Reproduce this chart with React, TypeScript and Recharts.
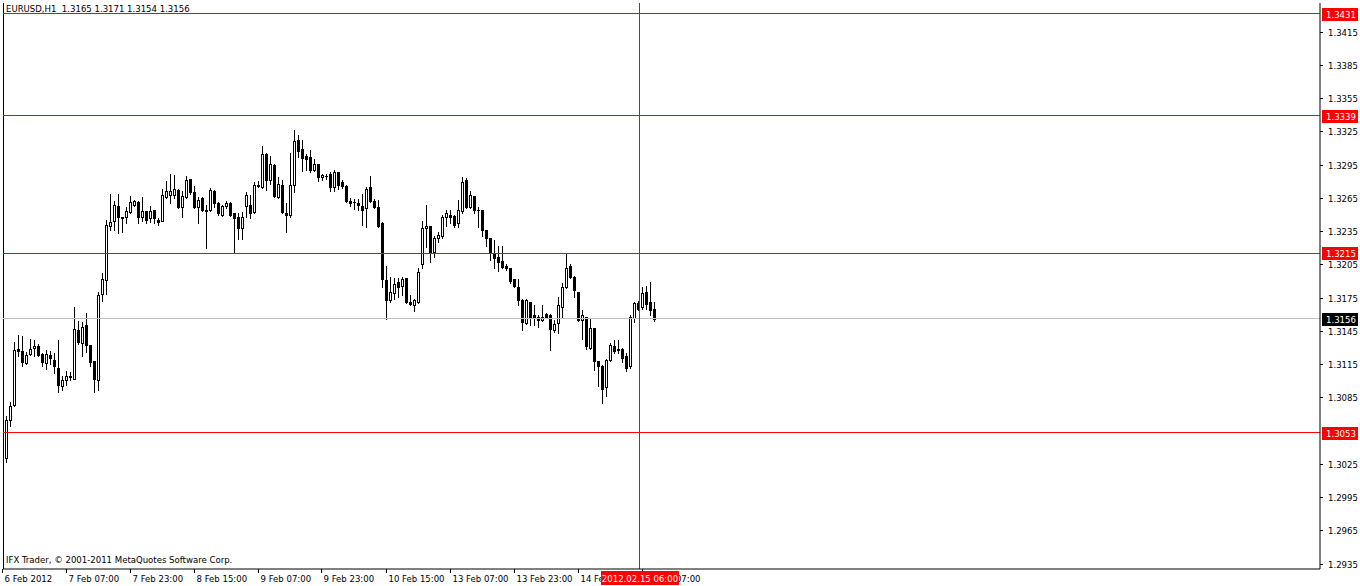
import React from "react";
import {
  ComposedChart,
  Bar,
  XAxis,
  YAxis,
  ReferenceLine,
} from "recharts";

// EURUSD H1 candles, oldest first (6 Feb 15:00 .. 15 Feb 10:00)
const openPrices = [
  1.3065, 1.303, 1.3065, 1.3078, 1.3129, 1.3127, 1.3116, 1.3124, 1.313, 1.3131,
  1.3124, 1.3116, 1.3123, 1.3119, 1.3112, 1.3095, 1.3101, 1.3103, 1.3102, 1.3146,
  1.3134, 1.315, 1.3132, 1.3118, 1.3101, 1.3178, 1.3191, 1.324, 1.3244, 1.3258,
  1.3247, 1.3248, 1.3252, 1.3259, 1.3261, 1.3248, 1.3253, 1.3247, 1.3254, 1.3245,
  1.3244, 1.3266, 1.3268, 1.3268, 1.3272, 1.3257, 1.3266, 1.3282, 1.327, 1.3257,
  1.3265, 1.3254, 1.3254, 1.3271, 1.326, 1.325, 1.3258, 1.326, 1.3251, 1.3248,
  1.3238, 1.3258, 1.3259, 1.3252, 1.3277, 1.3275, 1.3305, 1.3281, 1.3295, 1.3266,
  1.3277, 1.3251, 1.325, 1.3277, 1.3317, 1.3309, 1.3303, 1.3302, 1.329, 1.3296,
  1.3284, 1.3285, 1.3287, 1.3275, 1.3288, 1.3279, 1.3276, 1.3262, 1.3261, 1.326,
  1.3258, 1.3256, 1.3275, 1.3262, 1.3257, 1.3242, 1.3191, 1.3173, 1.3179, 1.3189,
  1.3186, 1.3193, 1.3171, 1.3168, 1.3171, 1.3205, 1.3238, 1.324, 1.3216, 1.3229,
  1.3231, 1.3248, 1.325, 1.3249, 1.3242, 1.3253, 1.3281, 1.3257, 1.3267, 1.3254,
  1.3254, 1.3236, 1.3229, 1.3215, 1.3212, 1.3208, 1.3204, 1.3202, 1.3192, 1.3185,
  1.3173, 1.3152, 1.3171, 1.3159, 1.3158, 1.3155, 1.316, 1.3159, 1.3146, 1.3152,
  1.3167, 1.3185, 1.3204, 1.3194, 1.318, 1.3155, 1.3158, 1.313, 1.3148, 1.3118,
  1.3113, 1.3094, 1.3119, 1.3131, 1.3129, 1.3129, 1.3122, 1.3113, 1.3157, 1.317,
  1.3167, 1.318, 1.3171, 1.3165,
];
const highPrices = [
  1.3065, 1.3068, 1.3081, 1.3135, 1.3141, 1.314, 1.3126, 1.3138, 1.3137, 1.3133,
  1.3125, 1.3128, 1.3127, 1.3125, 1.3137, 1.3104, 1.3109, 1.3108, 1.3167, 1.3154,
  1.3153, 1.3161, 1.3132, 1.3118, 1.318, 1.3197, 1.3245, 1.3269, 1.3262, 1.3269,
  1.3248, 1.3257, 1.3267, 1.3263, 1.3262, 1.3266, 1.3253, 1.3258, 1.3254, 1.3247,
  1.3273, 1.328, 1.3287, 1.3286, 1.3273, 1.3271, 1.3285, 1.3282, 1.3276, 1.3266,
  1.3266, 1.3259, 1.3274, 1.3272, 1.3261, 1.3259, 1.3262, 1.3261, 1.3251, 1.3251,
  1.3252, 1.327, 1.3268, 1.3279, 1.328, 1.3312, 1.3306, 1.3303, 1.3296, 1.3284,
  1.3281, 1.326, 1.3306, 1.3326, 1.3322, 1.3317, 1.3305, 1.3308, 1.33, 1.3296,
  1.3287, 1.3287, 1.3288, 1.329, 1.3288, 1.3281, 1.3277, 1.3265, 1.3264, 1.3264,
  1.3269, 1.3275, 1.3285, 1.3264, 1.3263, 1.3243, 1.3204, 1.3194, 1.3193, 1.3193,
  1.3194, 1.3193, 1.3177, 1.3174, 1.3202, 1.3244, 1.3259, 1.324, 1.3231, 1.3234,
  1.325, 1.3254, 1.3254, 1.325, 1.3263, 1.3284, 1.3283, 1.3271, 1.3267, 1.3257,
  1.3254, 1.3236, 1.3229, 1.3227, 1.3222, 1.3222, 1.3205, 1.3202, 1.3192, 1.3192,
  1.3174, 1.3174, 1.3171, 1.3168, 1.3159, 1.3168, 1.3161, 1.316, 1.3155, 1.3176,
  1.3188, 1.3215, 1.3205, 1.3195, 1.318, 1.3164, 1.3158, 1.3156, 1.3148, 1.3118,
  1.3114, 1.312, 1.3134, 1.3137, 1.3137, 1.313, 1.3125, 1.3159, 1.3171, 1.3172,
  1.3185, 1.3186, 1.3189, 1.3171,
];
const lowPrices = [
  1.3027, 1.3027, 1.3059, 1.3077, 1.3122, 1.3113, 1.3115, 1.3123, 1.3122, 1.3122,
  1.3113, 1.3111, 1.3115, 1.3107, 1.309, 1.3092, 1.3096, 1.3101, 1.3102, 1.3133,
  1.3122, 1.3126, 1.3113, 1.309, 1.3092, 1.3172, 1.3178, 1.3236, 1.3236, 1.3233,
  1.3234, 1.3242, 1.3251, 1.3258, 1.3242, 1.3244, 1.3242, 1.3243, 1.3242, 1.3241,
  1.3244, 1.3265, 1.326, 1.3265, 1.3256, 1.3248, 1.3265, 1.3269, 1.3256, 1.3242,
  1.3253, 1.322, 1.3253, 1.3257, 1.325, 1.3249, 1.3256, 1.3249, 1.3216, 1.3228,
  1.3228, 1.3248, 1.3247, 1.3251, 1.3275, 1.3274, 1.3272, 1.3278, 1.3266, 1.3265,
  1.3251, 1.3234, 1.3248, 1.327, 1.3302, 1.3289, 1.329, 1.3288, 1.3289, 1.328,
  1.3281, 1.3282, 1.3271, 1.3271, 1.3273, 1.3274, 1.3261, 1.3258, 1.3255, 1.3254,
  1.3241, 1.3239, 1.3261, 1.3256, 1.3239, 1.3185, 1.3156, 1.3171, 1.3174, 1.3176,
  1.3177, 1.317, 1.3168, 1.3163, 1.317, 1.3202, 1.3221, 1.3207, 1.3212, 1.3225,
  1.3229, 1.324, 1.3242, 1.3239, 1.3239, 1.3251, 1.3256, 1.3256, 1.3251, 1.3239,
  1.3231, 1.3222, 1.3209, 1.3202, 1.3199, 1.3202, 1.32, 1.3188, 1.3185, 1.3168,
  1.3146, 1.3151, 1.315, 1.315, 1.3149, 1.3154, 1.3157, 1.3128, 1.3144, 1.3143,
  1.3158, 1.3184, 1.3193, 1.3176, 1.3154, 1.3138, 1.3129, 1.3129, 1.311, 1.3095,
  1.308, 1.3086, 1.3118, 1.3125, 1.3125, 1.3117, 1.3109, 1.3112, 1.3153, 1.3164,
  1.3165, 1.3165, 1.3159, 1.3154,
];
const closePrices = [
  1.3029, 1.3065, 1.3077, 1.3128, 1.3127, 1.3117, 1.3123, 1.3129, 1.3131, 1.3123,
  1.3117, 1.3124, 1.3121, 1.3113, 1.3096, 1.3101, 1.3104, 1.3104, 1.3147, 1.3135,
  1.3149, 1.3132, 1.3117, 1.3102, 1.3177, 1.3192, 1.3241, 1.3243, 1.3259, 1.3248,
  1.3248, 1.3253, 1.3261, 1.3262, 1.3248, 1.3253, 1.3245, 1.3253, 1.3247, 1.3243,
  1.3268, 1.3271, 1.3271, 1.3273, 1.3257, 1.3267, 1.3281, 1.327, 1.3257, 1.3263,
  1.3254, 1.3253, 1.3272, 1.326, 1.3251, 1.3258, 1.326, 1.325, 1.3247, 1.3238,
  1.3248, 1.3268, 1.3251, 1.3277, 1.3276, 1.3305, 1.3281, 1.3296, 1.3267, 1.3278,
  1.3252, 1.325, 1.3277, 1.3316, 1.3307, 1.3301, 1.33, 1.329, 1.3296, 1.3284,
  1.3286, 1.3285, 1.3275, 1.3288, 1.3277, 1.3276, 1.3262, 1.326, 1.3261, 1.3259,
  1.3254, 1.3273, 1.3262, 1.3257, 1.324, 1.3192, 1.3173, 1.318, 1.3187, 1.3185,
  1.3192, 1.3171, 1.3169, 1.3173, 1.3198, 1.3238, 1.324, 1.3215, 1.3229, 1.3232,
  1.3248, 1.3251, 1.3248, 1.3241, 1.3254, 1.3279, 1.3257, 1.3268, 1.3254, 1.3254,
  1.3236, 1.3229, 1.3215, 1.3211, 1.3207, 1.3203, 1.3202, 1.319, 1.3186, 1.3173,
  1.3153, 1.3173, 1.3158, 1.3158, 1.3155, 1.3158, 1.3158, 1.3147, 1.3151, 1.3168,
  1.3185, 1.3202, 1.3194, 1.3182, 1.3155, 1.3159, 1.3131, 1.3148, 1.3118, 1.3113,
  1.3093, 1.3119, 1.3132, 1.3127, 1.3128, 1.3121, 1.3112, 1.3158, 1.317, 1.3165,
  1.3179, 1.3169, 1.3164, 1.3156,
];

const timeTicks = [0, 16, 32, 48, 64, 80, 96, 112, 128, 144, 160];
const timeLabels = [
  "6 Feb 2012", "7 Feb 07:00", "7 Feb 23:00", "8 Feb 15:00", "9 Feb 07:00",
  "9 Feb 23:00", "10 Feb 15:00", "13 Feb 07:00", "13 Feb 23:00", "14 Feb 15:00",
  "15 Feb 07:00",
];
const priceTicks = [
  1.2935, 1.2965, 1.2995, 1.3025, 1.3085, 1.3115, 1.3145, 1.3175, 1.3205,
  1.3235, 1.3265, 1.3295, 1.3325, 1.3355, 1.3385, 1.3415,
];
const levelLines = [1.3431, 1.3339, 1.3215, 1.3053];
const bidPrice = 1.3156;
const markerBar = 159;
const markerLabel = "2012.02.15 06:00";

const FONT = '"DejaVu Sans Condensed", "DejaVu Sans", sans-serif';
const Y_MIN = 1.29302;
const Y_MAX = 1.34409;
const X_MIN = -0.125;
const X_MAX = 329.125;

const data = openPrices.map((open, i) => ({
  i,
  open,
  high: highPrices[i],
  low: lowPrices[i],
  close: closePrices[i],
}));

function Candle(props: any) {
  const { x, y, width, height, payload } = props;
  const { open, high, low, close } = payload;
  const top = Math.min(y, y + height);
  const h = Math.abs(height);
  const k = high - low > 0 ? h / (high - low) : 0;
  const cx = Math.round(x + width / 2) - 0.5;
  const py = (v: number) => top + (high - v) * k;
  const bTop = Math.round(py(Math.max(open, close))) + 0.5;
  const bBot = Math.round(py(Math.min(open, close))) + 0.5;
  let body;
  if (bBot - bTop < 1) {
    body = <line x1={cx - 1.5} x2={cx + 1.5} y1={bTop} y2={bTop} stroke="#000" />;
  } else if (close > open) {
    body = (
      <rect x={cx - 1} y={bTop} width={2} height={bBot - bTop} fill="#fff" stroke="#000" />
    );
  } else {
    body = (
      <rect x={cx - 1.5} y={bTop - 0.5} width={3} height={bBot - bTop + 1} fill="#000" />
    );
  }
  return (
    <g shapeRendering="crispEdges">
      <line
        x1={cx}
        x2={cx}
        y1={Math.round(top)}
        y2={Math.round(top + h) + 1}
        stroke="#000"
      />
      {body}
    </g>
  );
}

function TimeTick(props: any) {
  const { x, payload } = props;
  const idx = timeTicks.indexOf(payload.value);
  const tx = Math.round(x) - 1.5;
  return (
    <g>
      <line x1={tx} x2={tx} y1={569} y2={573} stroke="#000" />
      <text x={tx + 2} y={582} fontSize={9.5} fontFamily={FONT} fill="#000">
        {timeLabels[idx]}
      </text>
    </g>
  );
}

function PriceTick(props: any) {
  const { y, payload } = props;
  const ty = Math.round(y) + 0.5;
  return (
    <g>
      <line x1={1320} x2={1323} y1={ty} y2={ty} stroke="#000" />
      <text x={1328} y={ty + 3.5} fontSize={9.5} fontFamily={FONT} fill="#000">
        {payload.value.toFixed(4)}
      </text>
    </g>
  );
}

function PriceTag(props: any) {
  const { viewBox, text, bg } = props;
  const cy = Math.round(viewBox.y);
  return (
    <g>
      <rect x={1322} y={cy - 6} width={36} height={13} fill={bg} />
      <text x={1326} y={cy + 4} fontSize={9.5} fontFamily={FONT} fill="#fff">
        {text}
      </text>
    </g>
  );
}

// drawn by a second bottom axis so it sits above the time labels
function DateTag(props: any) {
  const { x } = props;
  const cx = Math.round(x);
  return (
    <g>
      <rect x={cx - 39} y={571} width={78} height={14} fill="#ff0000" />
      <text
        x={cx}
        y={582}
        textAnchor="middle"
        fontSize={9.5}
        fontFamily={FONT}
        fill="#fff"
      >
        {markerLabel}
      </text>
    </g>
  );
}

export default function App() {
  return (
    <div
      style={{
        position: "absolute",
        left: 0,
        top: 0,
        width: 1360,
        height: 586,
        background: "#fff",
      }}
    >
      <ComposedChart
        width={1360}
        height={586}
        data={data}
        margin={{ top: 3, right: 0, left: 3, bottom: 0 }}
      >
        <XAxis
          dataKey="i"
          type="number"
          domain={[X_MIN, X_MAX]}
          allowDataOverflow
          ticks={timeTicks}
          interval={0}
          tick={<TimeTick />}
          tickLine={false}
          axisLine={{ stroke: "#000" }}
          height={16}
        />
        <XAxis
          xAxisId="marker"
          dataKey="i"
          type="number"
          domain={[X_MIN, X_MAX]}
          allowDataOverflow
          ticks={[markerBar]}
          interval={0}
          tick={<DateTag />}
          tickLine={false}
          axisLine={false}
          height={1}
        />
        <YAxis
          orientation="right"
          type="number"
          domain={[Y_MIN, Y_MAX]}
          allowDataOverflow
          ticks={priceTicks}
          interval={0}
          tick={<PriceTick />}
          tickLine={false}
          axisLine={{ stroke: "#000" }}
          width={40}
        />
        <ReferenceLine x={X_MIN} stroke="#000" shapeRendering="crispEdges" />
        <ReferenceLine
          y={bidPrice}
          stroke="#c0c0c0"
          shapeRendering="crispEdges"
          label={(p: any) => (
            <PriceTag viewBox={p.viewBox} text={bidPrice.toFixed(4)} bg="#000" />
          )}
        />
        <Bar
          dataKey={(d: any) => [d.low, d.high]}
          barSize={4}
          shape={<Candle />}
          isAnimationActive={false}
        />
        {levelLines.map((v) => (
          <ReferenceLine
            key={v}
            y={v}
            stroke="#ff0000"
            shapeRendering="crispEdges"
            label={(p: any) => (
              <PriceTag viewBox={p.viewBox} text={v.toFixed(4)} bg="#ff0000" />
            )}
          />
        ))}
        <ReferenceLine x={markerBar} stroke="#ff0000" shapeRendering="crispEdges" />
      </ComposedChart>
      <div
        style={{
          position: "absolute",
          left: 6,
          top: 3,
          fontFamily: FONT,
          fontSize: 9.5,
          lineHeight: "12px",
          whiteSpace: "pre",
        }}
      >
        {"EURUSD,H1  1.3165 1.3171 1.3154 1.3156"}
      </div>
      <div
        style={{
          position: "absolute",
          left: 6,
          top: 554,
          fontFamily: FONT,
          fontSize: 9.5,
          lineHeight: "12px",
          whiteSpace: "pre",
        }}
      >
        {"IFX Trader, \u00a9 2001-2011 MetaQuotes Software Corp."}
      </div>
    </div>
  );
}
